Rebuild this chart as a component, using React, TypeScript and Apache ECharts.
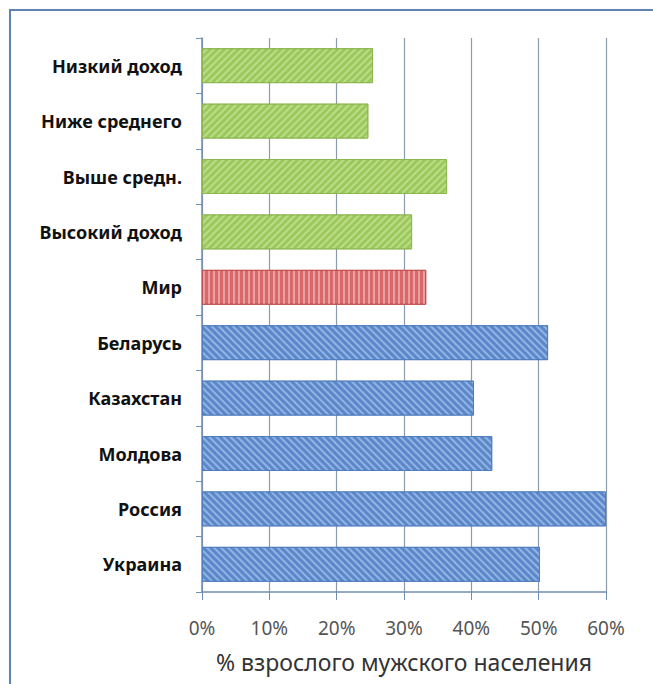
import React, { useEffect, useRef } from "react";
import * as echarts from "echarts";

const categories = [
  "Низкий доход",
  "Ниже среднего",
  "Выше средн.",
  "Высокий доход",
  "Мир",
  "Беларусь",
  "Казахстан",
  "Молдова",
  "Россия",
  "Украина",
];
const values = [25.4, 24.7, 36.4, 31.2, 33.3, 51.4, 40.4, 43.1, 60, 50.2];
const groups = ["income", "income", "income", "income", "world", "cis", "cis", "cis", "cis", "cis"];
const xTicks = [0, 10, 20, 30, 40, 50, 60];
const xTitle = "% взрослого мужского населения";

const styles: Record<string, any> = {
  income: { color: "#9cc95c", border: "#8db650", stripe: "#bddc8a", rotation: -Math.PI / 4 },
  world: { color: "#d9686b", border: "#c0504d", stripe: "#eaa0a0", rotation: Math.PI / 2 },
  cis: { color: "#5b88cb", border: "#4f7dbd", stripe: "#93b3e2", rotation: Math.PI / 4 },
};

export default function App() {
  const ref = useRef<HTMLDivElement>(null);
  useEffect(() => {
    const chart = echarts.init(ref.current!, null, { renderer: "svg" });
    chart.setOption({
      animation: false,
      backgroundColor: "#ffffff",
      graphic: [
        {
          type: "rect",
          shape: { x: 10, y: 10, width: 720, height: 720 },
          style: { fill: "none", stroke: "#5f83b4", lineWidth: 2 },
          z: 100,
          silent: true,
        },
      ],
      grid: { left: 202, right: 47, top: 38, bottom: 92, containLabel: false },
      xAxis: {
        type: "value",
        min: 0,
        max: 60,
        interval: 10,
        axisLine: { show: true, lineStyle: { color: "#6f8fb3", width: 1.5 } },
        axisTick: { show: true, length: 8, lineStyle: { color: "#6f8fb3" } },
        splitLine: { show: true, lineStyle: { color: "#8b9bab", width: 1.2 } },
        axisLabel: {
          formatter: (v: number) => (xTicks.includes(v) ? v + "%" : ""),
          fontFamily: "Noto Sans",
          fontSize: 19,
          color: "#555",
          margin: 26,
        },
        name: xTitle,
        nameLocation: "middle",
        nameGap: 58,
        nameTextStyle: { fontFamily: "Noto Sans", fontSize: 23, color: "#333" },
      },
      yAxis: {
        type: "category",
        data: categories,
        inverse: true,
        axisLine: { show: true, lineStyle: { color: "#6f8fb3", width: 1.5 } },
        axisTick: { show: true, length: 6, lineStyle: { color: "#6f8fb3" } },
        axisLabel: {
          fontFamily: "Noto Sans",
          fontWeight: "bold",
          fontSize: 18,
          color: "#111",
          margin: 20,
        },
      },
      series: [
        {
          type: "bar",
          barCategoryGap: "37%",
          data: values.map((v, i) => {
            const s = styles[groups[i]];
            return {
              value: v,
              itemStyle: {
                color: s.color,
                borderColor: s.border,
                borderWidth: 1,
                decal: {
                  symbol: "rect",
                  symbolSize: 1,
                  color: s.stripe,
                  dashArrayX: [1, 0],
                  dashArrayY: [2, 3],
                  rotation: s.rotation,
                },
              },
            };
          }),
        },
      ],
    });
    return () => chart.dispose();
  }, []);
  return <div ref={ref} style={{ width: 653, height: 684, position: "absolute", left: 0, top: 0 }} />;
}
